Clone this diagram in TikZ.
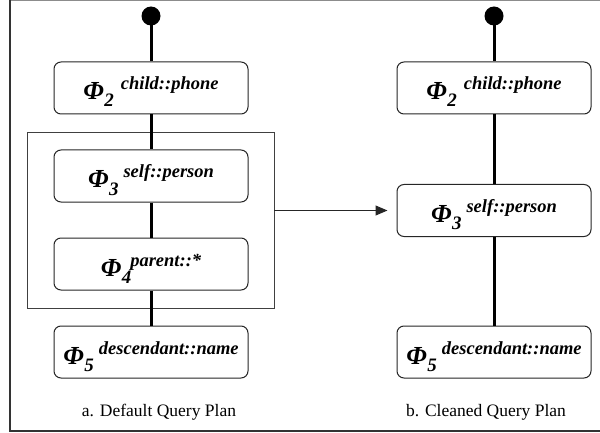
\documentclass[tikz,border=0pt]{standalone}
\usepackage{fontspec}
\setmainfont{Liberation Serif}
\usetikzlibrary{arrows.meta}
\newcommand{\phinode}[3]{{\fontsize{26}{26}\selectfont\bfseries\itshape Φ}\hspace{0.5pt}\raisebox{-7pt}{\fontsize{19}{19}\selectfont\bfseries\itshape #1}\hspace{#3}\raisebox{10pt}{\fontsize{18.5}{18.5}\selectfont\bfseries\itshape #2}}
\begin{document}
\begin{tikzpicture}[x=1pt,y=-1pt,
  opbox/.style={draw=black!85,line width=1pt,rounded corners=7pt,minimum width=194pt,minimum height=52pt,inner sep=0pt,text height=26pt,text depth=2pt,fill=white},
  edge/.style={line width=3pt,black},
  root/.style={circle,fill=black,minimum size=19pt,inner sep=0pt},
  caption/.style={font=\fontsize{17.5}{17.5}\selectfont}]
\useasboundingbox (0,0) rectangle (600,433);
% frame
\draw[black!45,line width=1pt] (10,0.5) -- (601,0.5);
\draw[black!80,line width=1.3pt] (10,0) -- (10,431) -- (601,431);
% left plan
\node[root] (ra) at (151,16) {};
\node[opbox] (a2) at (151,88) {\phinode{2}{child::phone}{7pt}};
\node[opbox] (a3) at (151,176) {\phinode{3}{self::person}{5pt}};
\node[opbox] (a4) at (151,264) {\phinode{4}{parent::*}{-1pt}};
\node[opbox] (a5) at (151,352) {\phinode{5}{descendant::name}{5pt}};
\node[draw=black!75,line width=0.9pt,minimum width=247pt,minimum height=176pt,inner sep=0pt] (grp) at (150.5,220) {};
\draw[edge] (ra.center) -- (a2.north);
\draw[edge] (a2.south) -- (a3.north);
\draw[edge] (a3.south) -- (a4.north);
\draw[edge] (a4.south) -- (a5.north);
% right plan
\node[root] (rb) at (494,16) {};
\node[opbox] (b2) at (494,88) {\phinode{2}{child::phone}{7pt}};
\node[opbox] (b3) at (494,210.5) {\phinode{3}{self::person}{5pt}};
\node[opbox] (b5) at (494,352) {\phinode{5}{descendant::name}{5pt}};
\draw[edge] (rb.center) -- (b2.north);
\draw[edge] (b2.south) -- (b3.north);
\draw[edge] (b3.south) -- (b5.north);
% arrow
\draw[black!85,line width=1pt,-{Triangle[length=12pt,width=10pt]},shorten >=9pt] (grp.east |- b3.west) -- (b3.west);
% captions
\node[caption] (ca) at (159,412) {a. Default Query Plan};
\node[caption] (cb) at (486,412) {b. Cleaned Query Plan};
\end{tikzpicture}
\end{document}
